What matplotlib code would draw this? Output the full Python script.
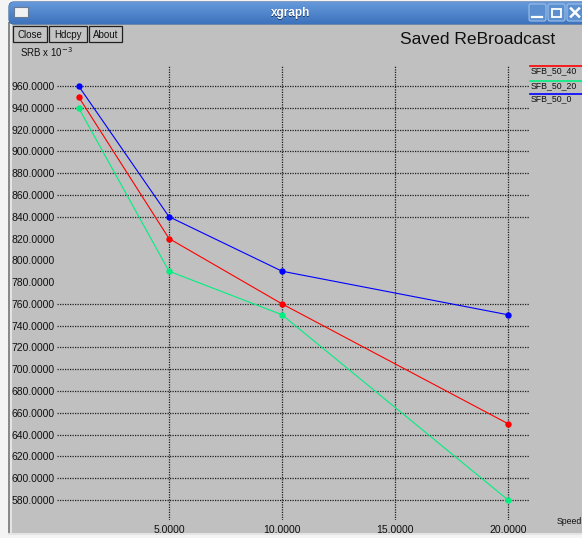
import matplotlib
matplotlib.use("Agg")
import matplotlib.pyplot as plt
from matplotlib.patches import Rectangle, FancyBboxPatch
import numpy as np

plt.rcParams['font.family'] = ['Liberation Sans', 'DejaVu Sans']

# ---- data ----
speed = [1, 5, 10, 20]
series_names = ["SFB_50_40", "SFB_50_20", "SFB_50_0"]
srb_50_40 = [950, 820, 760, 650]
srb_50_20 = [940, 790, 750, 580]
srb_50_0 = [960, 840, 790, 750]
series_colors = ["#ff0000", "#00f080", "#0000ff"]

x_ticks = [5, 10, 15, 20]
x_tick_labels = ["5.0000", "10.0000", "15.0000", "20.0000"]
y_ticks = list(range(960, 579, -20))
y_tick_labels = [f"{v}.0000" for v in y_ticks]
y_grid_skip = [820, 800, 780]

W, H = 582, 538
fig = plt.figure(figsize=(W / 100, H / 100), dpi=100)
fig.patch.set_facecolor("#f4f4f4")

# ---- window frame (pixel coordinates) ----
bg = fig.add_axes([0, 0, 1, 1], zorder=0)
bg.set_xlim(0, W)
bg.set_ylim(H, 0)
bg.axis("off")

# window body
bg.add_patch(Rectangle((8, 22), W - 8, 513, facecolor="#c0c0c0",
                       edgecolor="none"))
bg.add_patch(Rectangle((8, 22), 2, 513, facecolor="#8a8a8a", edgecolor="none"))
bg.add_patch(Rectangle((10, 22), 2, 513, facecolor="#e4e4e4", edgecolor="none"))
bg.add_patch(Rectangle((8, 533), W - 8, 2, facecolor="#e4e4e4", edgecolor="none"))

# title bar with vertical gradient
grad = np.linspace(0, 1, 64).reshape(-1, 1)
top_c = np.array([0.40, 0.60, 0.86])
bot_c = np.array([0.24, 0.45, 0.74])
img = top_c[None, None, :] * (1 - grad[..., None]) + bot_c[None, None, :] * grad[..., None]
tb = FancyBboxPatch((9, 2), W - 9 + 10, 22, boxstyle="round,pad=0,rounding_size=5",
                    facecolor="none", edgecolor="#2c5a98", linewidth=0.8)
bg.add_patch(tb)
im = bg.imshow(img, extent=(9, W + 10, 24, 2), aspect="auto", zorder=1)
im.set_clip_path(tb)
bg.text(291, 14, "xgraph", color="#1c3a66", fontsize=8.5, fontweight="bold",
        ha="center", va="center", zorder=3)
bg.text(290.3, 13.2, "xgraph", color="white", fontsize=8.5, fontweight="bold",
        ha="center", va="center", zorder=4)
# window icon
bg.add_patch(Rectangle((14, 7), 14, 10, facecolor="#f2f2f2", edgecolor="#6a7a90",
                       linewidth=0.8, zorder=3))
# minimize / maximize / close buttons
for i, x0 in enumerate([529, 548, 567]):
    bg.add_patch(FancyBboxPatch((x0, 4), 17, 17, boxstyle="round,pad=0,rounding_size=2",
                                facecolor="#5b8fd0", edgecolor="#9cc0ea",
                                linewidth=0.8, zorder=3))
bg.plot([532, 542], [17, 17], color="white", lw=1.6, zorder=4)
bg.add_patch(Rectangle((552, 8.5), 9, 8, facecolor="none", edgecolor="white",
                       linewidth=1.3, zorder=4))
bg.plot([571, 579], [8.5, 16.5], color="white", lw=1.8, zorder=4)
bg.plot([571, 579], [16.5, 8.5], color="white", lw=1.8, zorder=4)

# toolbar buttons
for label, x0, x1 in [("Close", 13, 47), ("Hdcpy", 49, 87), ("About", 89, 122)]:
    bg.add_patch(Rectangle((x0, 26), x1 - x0, 16, facecolor="#c4c4c4",
                           edgecolor="#202020", linewidth=0.9, zorder=3))
    bg.text((x0 + x1) / 2, 34.5, label, fontsize=7, ha="center", va="center",
            color="#101010", zorder=4)

bg.text(20, 52, r"SRB x 10$^{-3}$", fontsize=7, ha="left", va="center",
        color="#101010")
bg.text(400, 40, "Saved ReBroadcast", fontsize=12.6, ha="left", va="center",
        color="#101010")

# ---- plot area ----
ax_l, ax_r, ax_t, ax_b = 57, 530, 66, 520
ax = fig.add_axes([ax_l / W, 1 - ax_b / H, (ax_r - ax_l) / W, (ax_b - ax_t) / H],
                  zorder=2)
ax.patch.set_alpha(0)
ax.set_xlim(0.044, 20.97)
ax.set_ylim(561.64, 978.36)
for s in ax.spines.values():
    s.set_visible(False)

grid_kw = dict(color="#202020", linewidth=0.9, linestyles=(0, (1, 1)), zorder=1)
ax.hlines([v for v in y_ticks if v not in y_grid_skip], 0.044, 20.97, **grid_kw)
ax.vlines(x_ticks, 561.64, 978.36, **grid_kw)

ax.set_yticks(y_ticks)
ax.set_yticklabels(y_tick_labels)
ax.set_xticks(x_ticks)
ax.set_xticklabels(x_tick_labels)
ax.tick_params(axis="both", length=0, labelsize=7.5, colors="#101010")
ax.tick_params(axis="y", pad=1.5)
ax.tick_params(axis="x", pad=3.5)

for vals, color in zip([srb_50_40, srb_50_20, srb_50_0], series_colors):
    ax.plot(speed, vals, color=color, linewidth=0.8, marker="o", markersize=4.6,
            markeredgewidth=0, zorder=3, clip_on=False)

# legend at the right edge
fg = fig.add_axes([0, 0, 1, 1], zorder=3)
fg.set_xlim(0, W)
fg.set_ylim(H, 0)
fg.axis("off")
for name, color, yl in zip(series_names, series_colors, [66, 81, 94]):
    fg.plot([530, W + 5], [yl, yl], color=color, lw=1.2, clip_on=False)
    fg.text(531, yl + 5, name, fontsize=6.3, ha="left", va="center", color="#101010")
fg.text(557, 521, "Speed", fontsize=6.3, ha="left", va="center", color="#101010")

fig.savefig("out.png", dpi=100, facecolor=fig.get_facecolor())
